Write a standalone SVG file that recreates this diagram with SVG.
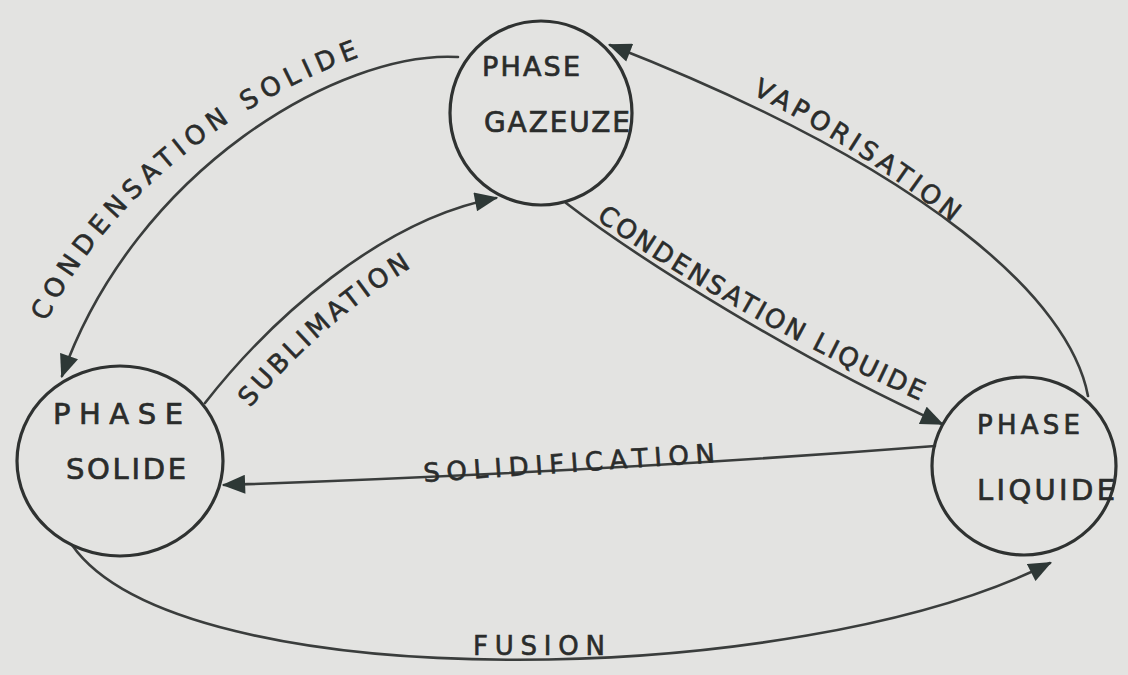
<svg xmlns="http://www.w3.org/2000/svg" xmlns:xlink="http://www.w3.org/1999/xlink" width="1128" height="675" viewBox="0 0 1128 675">
  <defs>
    <style>
      .node { fill: none; stroke: #2f3231; stroke-width: 3.2; }
      .edge { fill: none; stroke: #3a3d3c; stroke-width: 2.6; stroke-linecap: round; }
      .ntxt { font-family: "DejaVu Sans", "Liberation Sans", sans-serif; fill: #2a2c2b; stroke: #2a2c2b; stroke-width: 0.7; }
      .ltxt { font-family: "DejaVu Sans", "Liberation Sans", sans-serif; fill: #2a2c2b; stroke: #2a2c2b; stroke-width: 0.6; font-size: 26px; }
    </style>
    <marker id="ah" viewBox="0 0 22 18" refX="20" refY="9" markerWidth="24" markerHeight="19" orient="auto" markerUnits="userSpaceOnUse">
      <path d="M0,0 L22,9 L0,18 Z" fill="#2e3836"/>
    </marker>
    <path id="p-cs" d="M 46,322 C 104,205 226,98 388,47"/>
    <path id="p-sub" d="M 250,408 Q 330,313 432,255"/>
    <path id="p-vap" d="M 752,94 Q 858,148 952,222"/>
    <path id="p-cl" d="M 596,219 C 680,278 800,348 932,406"/>
  </defs>

  <rect x="0" y="0" width="1128" height="675" fill="#e3e3e1"/>

  <g id="connectors">
    <path class="edge" d="M 458,57 C 340,50 135,170 62,376" marker-end="url(#ah)"/>
    <path class="edge" d="M 205,403 C 270,320 380,220 496,198" marker-end="url(#ah)"/>
    <path class="edge" d="M 1088,396 C 1070,300 930,170 610,45" marker-end="url(#ah)"/>
    <path class="edge" d="M 566,203 C 640,260 800,360 942,424" marker-end="url(#ah)"/>
    <path class="edge" d="M 935,446 Q 600,472 224,485" marker-end="url(#ah)"/>
    <path class="edge" d="M 72,545 C 180,700 800,690 1050,563" marker-end="url(#ah)"/>

    <text class="ltxt"><textPath xlink:href="#p-cs" href="#p-cs" textLength="420" lengthAdjust="spacing">CONDENSATION SOLIDE</textPath></text>
    <text class="ltxt"><textPath xlink:href="#p-sub" href="#p-sub" textLength="215" lengthAdjust="spacing">SUBLIMATION</textPath></text>
    <text class="ltxt"><textPath xlink:href="#p-vap" href="#p-vap" textLength="238" lengthAdjust="spacing">VAPORISATION</textPath></text>
    <text class="ltxt"><textPath xlink:href="#p-cl" href="#p-cl" textLength="372" lengthAdjust="spacing">CONDENSATION LIQUIDE</textPath></text>
    <text class="ltxt" x="424" y="482" font-size="29" textLength="292" lengthAdjust="spacing" transform="rotate(-3.9 424 482)">SOLIDIFICATION</text>
    <text class="ltxt" x="473" y="655" font-size="31" textLength="132" lengthAdjust="spacing">FUSION</text>
  </g>

  <g id="node-gaz">
    <ellipse class="node" cx="541" cy="113" rx="91" ry="92"/>
    <text class="ntxt" x="482" y="76" font-size="27" textLength="98" lengthAdjust="spacing">PHASE</text>
    <text class="ntxt" x="484" y="132" font-size="28" textLength="146" lengthAdjust="spacing">GAZEUZE</text>
  </g>

  <g id="node-solide">
    <ellipse class="node" cx="120" cy="461" rx="103" ry="95"/>
    <text class="ntxt" x="53" y="424" font-size="29" textLength="130" lengthAdjust="spacing">PHASE</text>
    <text class="ntxt" x="66" y="479" font-size="29" textLength="120" lengthAdjust="spacing">SOLIDE</text>
  </g>

  <g id="node-liquide">
    <ellipse class="node" cx="1024" cy="466" rx="92" ry="89"/>
    <text class="ntxt" x="977" y="434" font-size="26" textLength="103" lengthAdjust="spacing">PHASE</text>
    <text class="ntxt" x="977" y="500" font-size="29" textLength="138" lengthAdjust="spacing">LIQUIDE</text>
  </g>
</svg>
